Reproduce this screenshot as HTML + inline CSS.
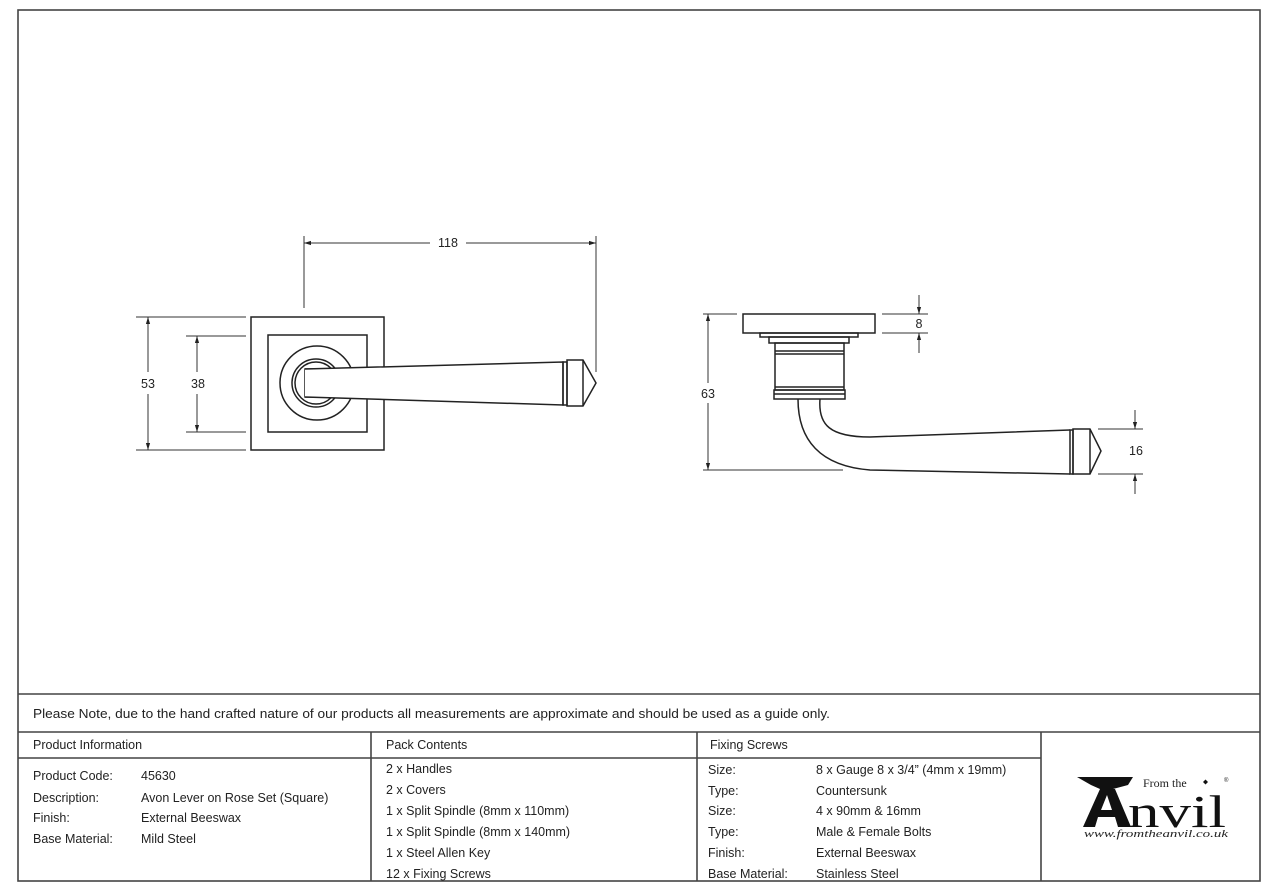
<!DOCTYPE html>
<html><head><meta charset="utf-8"><style>
html,body{margin:0;padding:0;background:#fff}
svg{display:block}
text{font-family:"Liberation Sans",sans-serif;font-size:12.5px;fill:#222}
</style></head><body>
<svg width="1282" height="892" viewBox="0 0 1282 892" xmlns="http://www.w3.org/2000/svg">
<defs>
<marker id="a" viewBox="0 0 10 10" refX="10" refY="5" markerWidth="7" markerHeight="7" orient="auto-start-reverse"><path d="M0,2 L10,5 L0,8 z" fill="#222"/></marker>
</defs>
<g fill="none" stroke="#444" stroke-width="1.6">
<rect x="18" y="10" width="1242" height="871"/>
<line x1="18" y1="694" x2="1260" y2="694"/>
<line x1="18" y1="732" x2="1260" y2="732"/>
<line x1="18" y1="758" x2="1041" y2="758"/>
<line x1="371" y1="732" x2="371" y2="881"/>
<line x1="697" y1="732" x2="697" y2="881"/>
<line x1="1041" y1="732" x2="1041" y2="881"/>
</g>
<!-- left drawing -->
<g fill="none" stroke="#222" stroke-width="1.5">
<rect x="251" y="317" width="133" height="133"/>
<rect x="268" y="335" width="99" height="97"/>
<circle cx="317" cy="383" r="37"/>
<circle cx="316" cy="383" r="24"/>
<circle cx="316" cy="383" r="21"/>
<path d="M340,369 L305,369 L305,397 L340,397" fill="#fff"/>
<path d="M305,369 L563,362 L563,405 L305,397" fill="#fff"/>
<rect x="563" y="362" width="4" height="43"/>
<path d="M567,360 L583,360 L596,383 L583,406 L567,406 z"/>
<line x1="583" y1="360" x2="583" y2="406"/>
</g>
<g stroke="#333" stroke-width="1" fill="none">
<line x1="304" y1="236" x2="304" y2="308"/>
<line x1="596" y1="236" x2="596" y2="372"/>
<line x1="304" y1="243" x2="430" y2="243" marker-start="url(#a)"/>
<line x1="466" y1="243" x2="596" y2="243" marker-end="url(#a)"/>
<line x1="136" y1="317" x2="246" y2="317"/>
<line x1="136" y1="450" x2="246" y2="450"/>
<line x1="148" y1="317" x2="148" y2="372" marker-start="url(#a)"/>
<line x1="148" y1="394" x2="148" y2="450" marker-end="url(#a)"/>
<line x1="186" y1="336" x2="246" y2="336"/>
<line x1="186" y1="432" x2="246" y2="432"/>
<line x1="197" y1="336" x2="197" y2="372" marker-start="url(#a)"/>
<line x1="197" y1="394" x2="197" y2="432" marker-end="url(#a)"/>
</g>
<text x="448" y="247" text-anchor="middle">118</text>
<text x="148" y="388" text-anchor="middle">53</text>
<text x="198" y="388" text-anchor="middle">38</text>
<!-- right drawing -->
<g fill="none" stroke="#222" stroke-width="1.5">
<rect x="743" y="314" width="132" height="19"/>
<rect x="760" y="333" width="98" height="4"/>
<rect x="769" y="337" width="80" height="6"/>
<rect x="775" y="343" width="69" height="47"/>
<line x1="775" y1="351" x2="844" y2="351"/>
<line x1="775" y1="354" x2="844" y2="354"/>
<line x1="775" y1="387" x2="844" y2="387"/>
<rect x="774" y="390" width="71" height="9"/>
<line x1="774" y1="394" x2="845" y2="394"/>
<path d="M798,399 C798,440 820,466 870,470 L1070,474"/>
<path d="M820,399 C818,425 830,437 870,437 L1070,430"/>
<rect x="1070" y="430" width="3" height="44"/>
<path d="M1073,429 L1090,429 L1101,451 L1090,474 L1073,474 z"/>
<line x1="1090" y1="429" x2="1090" y2="474"/>
</g>
<g stroke="#333" stroke-width="1" fill="none">
<line x1="703" y1="314" x2="737" y2="314"/>
<line x1="703" y1="470" x2="843" y2="470"/>
<line x1="708" y1="314" x2="708" y2="383" marker-start="url(#a)"/>
<line x1="708" y1="403" x2="708" y2="470" marker-end="url(#a)"/>
<line x1="882" y1="314" x2="928" y2="314"/>
<line x1="882" y1="333" x2="928" y2="333"/>
<line x1="919" y1="295" x2="919" y2="314" marker-end="url(#a)"/>
<line x1="919" y1="353" x2="919" y2="333" marker-end="url(#a)"/>
<line x1="1098" y1="429" x2="1143" y2="429"/>
<line x1="1098" y1="474" x2="1143" y2="474"/>
<line x1="1135" y1="410" x2="1135" y2="429" marker-end="url(#a)"/>
<line x1="1135" y1="494" x2="1135" y2="474" marker-end="url(#a)"/>
</g>
<text x="919" y="328" text-anchor="middle">8</text>
<text x="708" y="398" text-anchor="middle">63</text>
<text x="1136" y="455" text-anchor="middle">16</text>
<!-- table text -->
<text x="33" y="718" textLength="797" lengthAdjust="spacingAndGlyphs">Please Note, due to the hand crafted nature of our products all measurements are approximate and should be used as a guide only.</text>
<text x="33" y="749">Product Information</text>
<text x="386" y="749">Pack Contents</text>
<text x="710" y="749">Fixing Screws</text>
<text x="33" y="780">Product Code:</text><text x="141" y="780">45630</text>
<text x="33" y="802">Description:</text><text x="141" y="802">Avon Lever on Rose Set (Square)</text>
<text x="33" y="822">Finish:</text><text x="141" y="822">External Beeswax</text>
<text x="33" y="843">Base Material:</text><text x="141" y="843">Mild Steel</text>
<text x="386" y="773">2 x Handles</text>
<text x="386" y="794">2 x Covers</text>
<text x="386" y="815">1 x Split Spindle (8mm x 110mm)</text>
<text x="386" y="836">1 x Split Spindle (8mm x 140mm)</text>
<text x="386" y="857">1 x Steel Allen Key</text>
<text x="386" y="878">12 x Fixing Screws</text>
<text x="708" y="774">Size:</text><text x="816" y="774">8 x Gauge 8 x 3/4” (4mm x 19mm)</text>
<text x="708" y="795">Type:</text><text x="816" y="795">Countersunk</text>
<text x="708" y="815">Size:</text><text x="816" y="815">4 x 90mm &amp; 16mm</text>
<text x="708" y="836">Type:</text><text x="816" y="836">Male &amp; Female Bolts</text>
<text x="708" y="857">Finish:</text><text x="816" y="857">External Beeswax</text>
<text x="708" y="878">Base Material:</text><text x="816" y="878">Stainless Steel</text>
<!-- logo -->
<path d="M1077,777 L1133,777 L1128,785 L1113,789 L1105,794 L1100,789 L1091,785 Z" fill="#111"/>
<path d="M1100,789 L1083,827 L1095,827 L1098,817 L1115,817 L1118,827 L1131,827 L1115,789 Z M1101,810 L1107,795 L1112,810 Z" fill="#111" fill-rule="evenodd"/>
<text x="1128" y="827" textLength="98" lengthAdjust="spacingAndGlyphs" style="font-family:'Liberation Serif',serif;font-size:46px;fill:#111">nvil</text>
<text x="1143" y="787" style="font-family:'Liberation Serif',serif;font-size:12px;fill:#222">From the</text>
<path d="M1203,782 l2.5,-2.5 l2.5,2.5 l-2.5,2.5 z" fill="#111"/>
<text x="1224" y="782" style="font-size:6px">®</text>
<text x="1084" y="837" textLength="144" lengthAdjust="spacingAndGlyphs" style="font-family:'Liberation Serif',serif;font-style:italic;font-size:10.5px;fill:#222">www.fromtheanvil.co.uk</text>
</svg>
</body></html>
